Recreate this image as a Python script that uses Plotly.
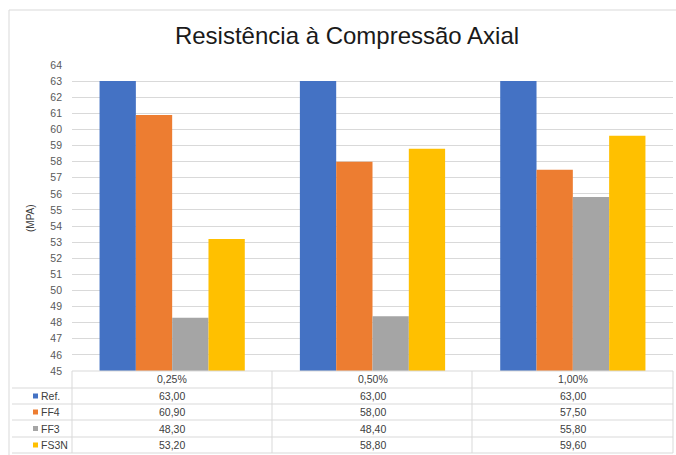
import plotly.graph_objects as go

categories = ["0,25%", "0,50%", "1,00%"]
series_names = ["Ref.", "FF4", "FF3", "FS3N"]
ref_vals = [63.00, 63.00, 63.00]
ff4_vals = [60.90, 58.00, 57.50]
ff3_vals = [48.30, 48.40, 55.80]
fs3n_vals = [53.20, 58.80, 59.60]
colors = ["#4472C4", "#ED7D31", "#A5A5A5", "#FFC000"]
y_ticks = list(range(45, 65))

series_vals = [ref_vals, ff4_vals, ff3_vals, fs3n_vals]

W, H = 676, 455
L, R, T, B = 72, 3, 65, 84
PW = W - L - R
PH = H - T - B

def px_x(px):
    return (px - L) / PW

def px_y(py):
    return 1 - (py - T) / PH

fig = go.Figure()
for name, vals, col in zip(series_names, series_vals, colors):
    fig.add_trace(go.Bar(x=categories, y=vals, name=name, marker_color=col,
                         marker_line_width=0, showlegend=False))

FONT = "Liberation Sans, Arial, sans-serif"
TXT = "#404040"
GRID = "#D9D9D9"

shapes = []
annotations = []

# chart border
shapes.append(dict(type="rect", xref="paper", yref="paper",
                   x0=px_x(9), x1=px_x(690), y0=px_y(470), y1=px_y(10),
                   line=dict(color=GRID, width=1), fillcolor="rgba(0,0,0,0)", layer="below"))

# table geometry
row_edges = [371, 388, 404, 420, 437, 453]
col_edges = [72, 272, 472, 673]
label_left = 12

for i, yy in enumerate(row_edges):
    x0 = col_edges[0] if i == 0 else label_left
    shapes.append(dict(type="line", xref="paper", yref="paper",
                       x0=px_x(x0), x1=px_x(col_edges[-1]), y0=px_y(yy), y1=px_y(yy),
                       line=dict(color=GRID, width=1)))
for xx in col_edges:
    shapes.append(dict(type="line", xref="paper", yref="paper",
                       x0=px_x(xx), x1=px_x(xx), y0=px_y(row_edges[0]), y1=px_y(row_edges[-1]),
                       line=dict(color=GRID, width=1)))

for c in categories:
    annotations.append(dict(x=c, xref="x", y=px_y((row_edges[0] + row_edges[1]) / 2), yref="paper",
                            text=c, showarrow=False, font=dict(family=FONT, size=10.5, color=TXT),
                            xanchor="center", yanchor="middle"))

for r, (name, vals, col) in enumerate(zip(series_names, series_vals, colors)):
    yc = (row_edges[r + 1] + row_edges[r + 2]) / 2
    for c, v in zip(categories, vals):
        annotations.append(dict(x=c, xref="x", y=px_y(yc), yref="paper",
                                text=f"{v:.2f}".replace(".", ","), showarrow=False,
                                font=dict(family=FONT, size=10.5, color=TXT),
                                xanchor="center", yanchor="middle"))
    shapes.append(dict(type="rect", xref="paper", yref="paper",
                       x0=px_x(33), x1=px_x(38), y0=px_y(yc + 2.5), y1=px_y(yc - 2.5),
                       fillcolor=col, line=dict(width=0)))
    annotations.append(dict(x=px_x(39), xref="paper", y=px_y(yc), yref="paper",
                            text=name, showarrow=False, font=dict(family=FONT, size=10.5, color=TXT),
                            xanchor="left", yanchor="middle"))

annotations.append(dict(x=px_x(30), xref="paper", y=px_y(218), yref="paper",
                        text="(MPA)", textangle=-90, showarrow=False,
                        font=dict(family=FONT, size=10, color=TXT),
                        xanchor="center", yanchor="middle"))

fig.update_layout(
    width=W, height=H,
    margin=dict(l=L, r=R, t=T, b=B, pad=0),
    paper_bgcolor="white", plot_bgcolor="white",
    barmode="group", bargap=0.275, bargroupgap=0,
    title=dict(text="Resistência à Compressão Axial", xref="container", x=347 / W,
               xanchor="center", yref="container", y=1 - 36 / H, yanchor="middle",
               font=dict(family=FONT, size=24, color="#1a1a1a")),
    xaxis=dict(showticklabels=False, showgrid=False, zeroline=False, showline=False,
               ticks=""),
    yaxis=dict(range=[45, 64], tickvals=y_ticks, ticktext=[str(t) for t in y_ticks],
               showgrid=True, gridcolor=GRID, gridwidth=1, zeroline=False, showline=False,
               ticks="", ticklabelstandoff=9,
               tickfont=dict(family=FONT, size=10.5, color="#595959")),
    shapes=shapes, annotations=annotations,
)

fig.write_html("out.html")
